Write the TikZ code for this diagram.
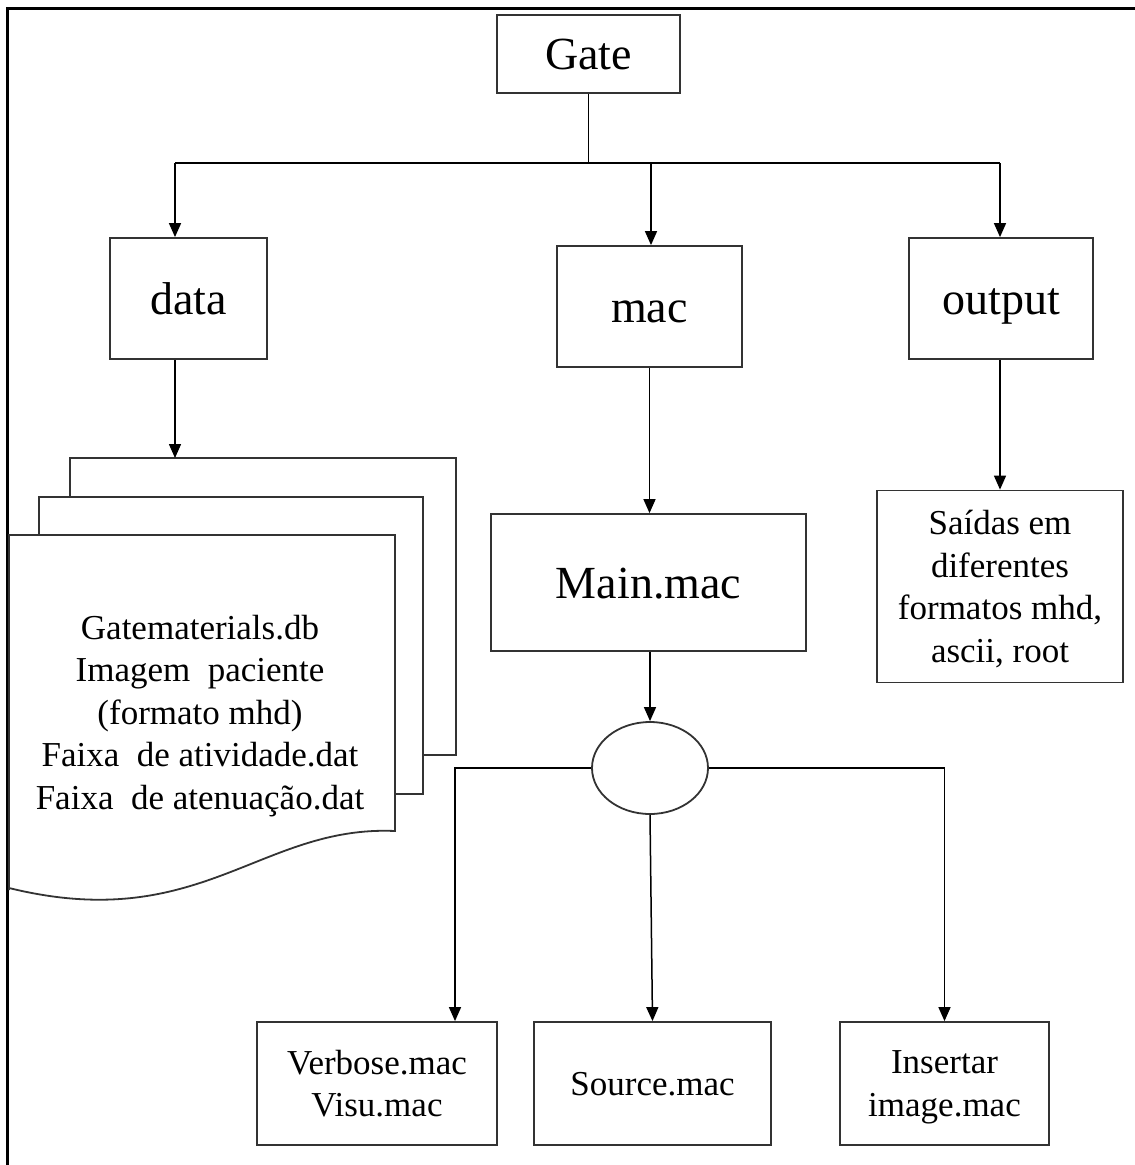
\documentclass[tikz,border=0pt]{standalone}
\usepackage{fontspec}
\setmainfont{Liberation Serif}
\usetikzlibrary{arrows.meta,shapes.geometric}
\begin{document}
\begin{tikzpicture}[x=1pt,y=-1pt,
  box/.style={draw=black!80,line width=1.8pt,inner sep=0pt,align=center},
  big/.style={font=\fontsize{46}{50}\selectfont,text height=31pt,text depth=0pt},
  small/.style={font=\fontsize{35}{42.5}\selectfont,text depth=0pt},
  conn/.style={line width=1.5pt,black},
  arr/.style={conn,-{Triangle[width=12pt,length=14pt]}},
  page/.style={draw=black!80,line width=1.8pt,fill=white}]
\useasboundingbox (0,0) rectangle (1135,1165);
% frame
\draw[line width=3pt] (1135,8) -- (7,8) -- (7,1165);
% top level
\node[box,big,minimum width=183pt,minimum height=78pt] (gate) at (588.5,54) {Gate};
\node[box,big,minimum width=157pt,minimum height=121pt] (data) at (188.5,298.5) {data};
\node[box,big,minimum width=185pt,minimum height=121pt] (mac) at (649.5,306.5) {mac};
\node[box,big,minimum width=184pt,minimum height=121pt] (out) at (1001,298.5) {output};
\coordinate (jG) at (588.5,163);
\coordinate (jL) at (175,163);
\coordinate (jM) at (651,163);
\coordinate (jR) at (1000,163);
\draw[conn] (gate.south) -- (jG);
\draw[conn] (jL) -- (jR);
\draw[arr] (jL) -- (jL |- data.north);
\draw[arr] (jM) -- (jM |- mac.north);
\draw[arr] (jR) -- (jR |- out.north);
% document stack
\draw[page] (70,535) -- (70,458) -- (456,458) -- (456,755) -- (423,755);
\draw[page] (39,535) -- (39,497) -- (423,497) -- (423,794) -- (395,794);
\draw[page] (9,890) -- (9,535) -- (395,535) -- (395,831)
  .. controls (260,825) and (200,935) .. (9,888);
\coordinate (docTop) at (175,458);
\draw[arr] (data.south -| jL) -- (docTop);
\node[small,align=center] (docs) at (200,712) {Gatematerials.db\\Imagem\ \ paciente\\(formato mhd)\\Faixa\ \ de atividade.dat\\Faixa\ \ de atenuação.dat};
% mac branch
\node[box,big,minimum width=315pt,minimum height=137pt] (main) at (648.5,582.5) {Main.mac};
\draw[arr] (mac.south) -- (mac.south |- main.north);
\node[draw=black!80,line width=1.8pt,ellipse,minimum width=116pt,minimum height=92pt,inner sep=0pt] (ell) at (650,768) {};
\draw[arr] (main.south -| ell.north) -- (ell.north);
\node[box,small,minimum width=240pt,minimum height=123pt] (verb) at (377,1083.5) {Verbose.mac\\Visu.mac};
\node[box,small,minimum width=237pt,minimum height=123pt] (src) at (652.5,1083.5) {Source.mac};
\node[box,small,minimum width=209pt,minimum height=123pt] (ins) at (944.5,1083.5) {Insertar\\image.mac};
\draw[arr] (ell.west) -| ([xshift=78pt]verb.north);
\draw[arr] (ell.south) -- (src.north);
\draw[arr] (ell.east) -| (ins.north);
% output branch
\node[box,small,minimum width=246pt,minimum height=192pt] (sai) at (1000,586.5) {Saídas em\\diferentes\\formatos mhd,\\ascii,\ root};
\draw[arr] (out.south -| jR) -- (jR |- sai.north);
\end{tikzpicture}
\end{document}
